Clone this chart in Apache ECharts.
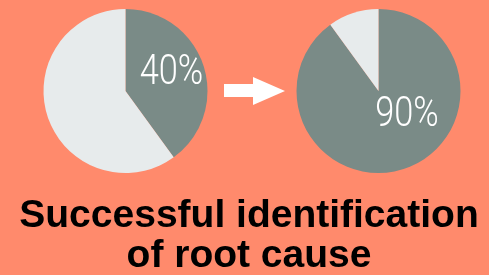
<!DOCTYPE html>
<html>
<head>
<meta charset="utf-8">
<script src="https://cdn.jsdelivr.net/npm/echarts@6/dist/echarts.min.js"></script>
<style>
  html, body { margin: 0; padding: 0; background: #ff8a6c; }
  #main { width: 489px; height: 275px; }
</style>
</head>
<body>
<div id="main"></div>
<script>
// share of cases where the root cause was found: before -> after
var before = [40, 60];
var after = [90, 10];
var sliceNames = ["identified", "not identified"];
var title = "Successful identification\nof root cause";

var dark = "#7a8b87";
var light = "#e7ebec";

var myChart = echarts.init(document.getElementById("main"));

function pie(values, center) {
  return {
    type: "pie",
    center: center,
    radius: 82,
    startAngle: 90,
    clockwise: true,
    silent: true,
    label: { show: false },
    labelLine: { show: false },
    itemStyle: { borderWidth: 0 },
    data: values.map(function (v, i) {
      return { name: sliceNames[i], value: v, itemStyle: { color: i === 0 ? dark : light } };
    })
  };
}

function pct(text, x, y) {
  return {
    type: "text",
    z: 100,
    x: x,
    y: y,
    scaleX: 0.8,
    style: {
      text: text,
      fill: "#fff",
      font: "300 43px Roboto",
      align: "center",
      verticalAlign: "middle"
    }
  };
}

myChart.setOption({
  backgroundColor: "#ff8a6c",
  animation: false,
  series: [pie(before, [125.5, 91]), pie(after, [378.5, 91])],
  graphic: [
    pct(before[0] + "%", 171.5, 73),
    pct(after[0] + "%", 407, 115.5),
    {
      type: "polygon",
      z: 100,
      shape: {
        points: [[224, 84], [253, 84], [253, 77], [285, 91], [253, 105], [253, 97], [224, 97]]
      },
      style: { fill: "#fff" }
    },
    {
      type: "text",
      z: 100,
      x: 249,
      y: 236,
      style: {
        text: title,
        fill: "#000",
        font: "bold 39px 'Liberation Sans', Arial, sans-serif",
        lineHeight: 40,
        align: "center",
        verticalAlign: "middle"
      }
    }
  ]
});
</script>
</body>
</html>
